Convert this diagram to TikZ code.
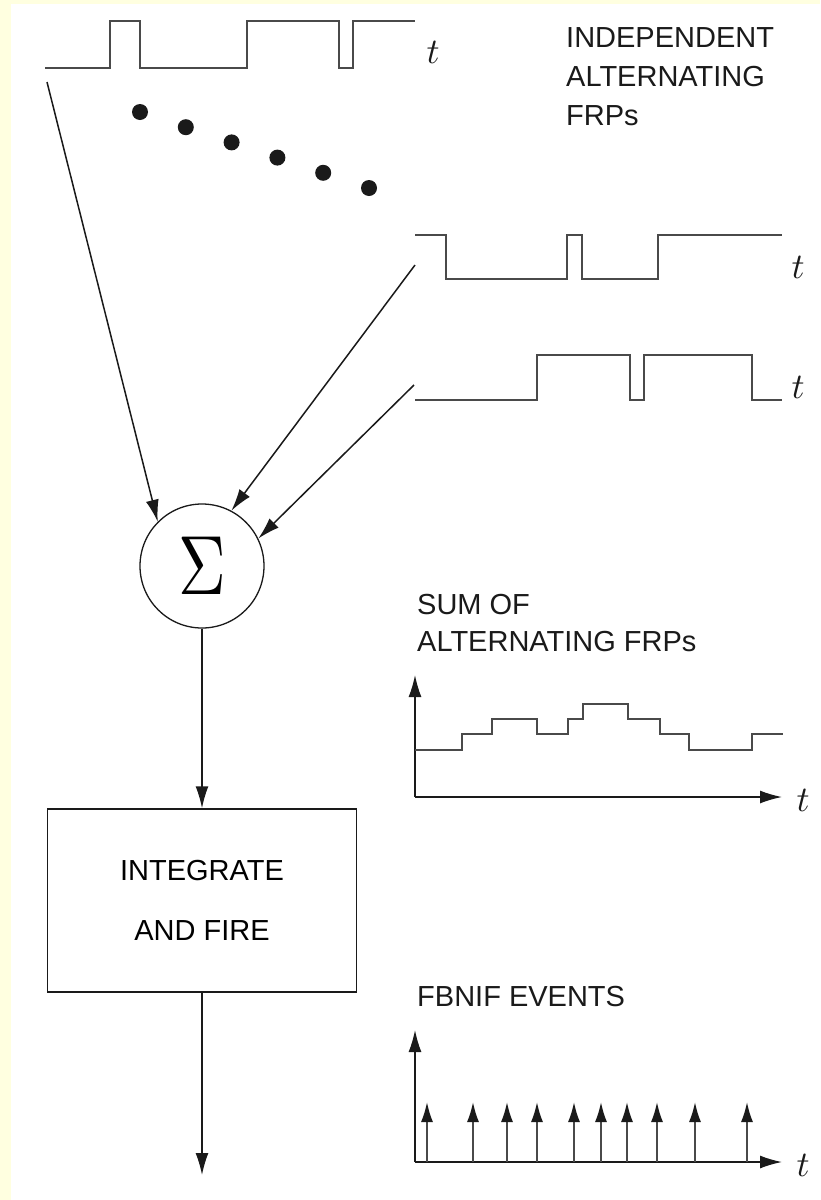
\documentclass[tikz,border=0pt]{standalone}
\usepackage{fontspec}
\usepackage{graphicx}
\usepackage{tikz}
\usetikzlibrary{arrows.meta}
\newfontfamily\labelfont{Liberation Sans}
\definecolor{paleYellow}{HTML}{FFFFE0}
\definecolor{waveGray}{HTML}{4A4A4A}
\definecolor{inkBlack}{HTML}{1A1A1A}
\newcommand{\tee}{\scalebox{3.6}{$t$}}

\begin{document}
\begin{tikzpicture}[x=1pt,y=-1pt,
  wave/.style={waveGray,line width=1.7pt},
  sig/.style={inkBlack,line width=1.5pt,-{Latex[length=22pt,width=13pt]}},
  lbl/.style={inkBlack,inner sep=0,anchor=north west,align=left,font=\labelfont\fontsize{29}{39}\selectfont},
  tlbl/.style={inkBlack,inner sep=0}]
\useasboundingbox (0,0) rectangle (820,1200);
\fill[paleYellow] (0,0) rectangle (820,1200);
\fill[white] (11,4) rectangle (820,1200);

% pulse trains
\draw[wave] (45,68) -| (110,21) -| (140,68) -| (247,21) -| (339,68) -| (353,21) -- (415,21);
\draw[wave] (415,235) -| (446,279) -| (567,235) -| (582,279) -| (658,235) -- (782,235);
\draw[wave] (415,400) -| (537,355) -| (630,400) -| (644,355) -| (752,400) -- (782,400);
\node[tlbl] (t1) at (433,52) {\tee};
\node[tlbl] (t2) at (798,267) {\tee};
\node[tlbl] (t3) at (798,387) {\tee};
\foreach \i in {0,...,5} \fill[inkBlack] (140+45.8*\i,112+15.2*\i) circle (8);
\node[lbl] (frpLbl) at (566,27) {INDEPENDENT\\ALTERNATING\\FRPs};

% summing node and integrator
\node[circle,draw=inkBlack,line width=1.3pt,minimum size=124,inner sep=0] (sum) at (202,566)
  {\scalebox{6.6}[8.4]{$\Sigma$}};
\node[draw=inkBlack,line width=1.5pt,minimum width=309,minimum height=183,inner sep=0,align=center,
  font=\labelfont\fontsize{29}{60}\selectfont] (iaf) at (202,900.5) {INTEGRATE\\AND FIRE};
\coordinate (w1) at (47,82);
\coordinate (w2) at (415,265);
\coordinate (w3) at (414,385);
\coordinate (out) at (202,1175);
\draw[sig] (w1) -- (sum.135);
\draw[sig] (w2) -- (sum.62);
\draw[sig] (w3) -- (sum.26);
\draw[sig] (sum) -- (iaf);
\draw[sig] (iaf) -- (out);

% sum of trains
\node[lbl,font=\labelfont\fontsize{29}{37}\selectfont] (sumLbl) at (417,594) {SUM OF\\ALTERNATING FRPs};
\draw[sig] (415,797) -- (415,675);
\draw[sig] (415,797) -- (782,797);
\node[tlbl] (t4) at (803,800) {\tee};
\draw[wave] (415,750) -| (462,734) -| (492,719) -| (537,734) -| (568,719) -| (583,704) -| (628,719)
  -| (660,734) -| (689,750) -| (752,734) -- (783,734);

% output events
\node[lbl] (evLbl) at (417,986) {FBNIF EVENTS};
\draw[sig] (415,1162) -- (415,1030);
\draw[sig] (415,1162) -- (782,1162);
\node[tlbl] (t5) at (803,1165) {\tee};
\foreach \x in {427,473,507,537,574,601,627,657,695,747}
  \draw[waveGray,line width=1.8pt,-{Latex[length=20pt,width=12pt,color=inkBlack]}] (\x,1162) -- (\x,1102);
\end{tikzpicture}
\end{document}
